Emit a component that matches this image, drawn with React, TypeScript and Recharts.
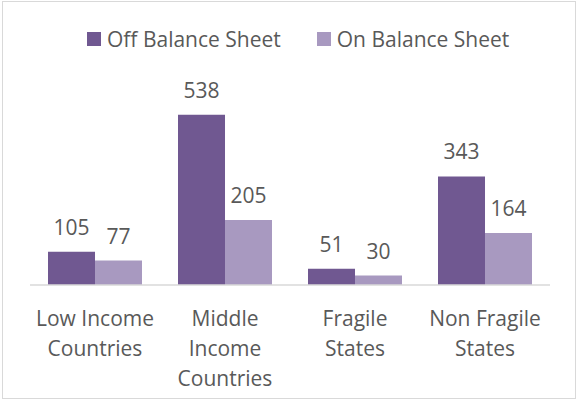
import React from "react";
import { BarChart, Bar, XAxis, YAxis, LabelList } from "recharts";

const categories = ["Low Income\nCountries", "Middle\nIncome\nCountries", "Fragile\nStates", "Non Fragile\nStates"];
const offBalance = [105, 538, 51, 343];
const onBalance = [77, 205, 30, 164];

const OFF_COLOR = "#705891";
const ON_COLOR = "#A899C0";
const TEXT = "#595959";
const FONT = "'Open Sans', sans-serif";

const data = categories.map((c, i) => ({ name: c, off: offBalance[i], on: onBalance[i] }));

const CategoryTick = (props: any) => {
  const { x, y, payload } = props;
  const lines = String(payload.value).split("\n");
  return (
    <text x={x} y={y} textAnchor="middle" fill={TEXT} fontSize={21} fontFamily={FONT}>
      {lines.map((l, i) => (
        <tspan key={i} x={x} dy={i === 0 ? 33 : 30}>{l}</tspan>
      ))}
    </text>
  );
};

const LegendBox = () => (
  <div style={{ position: "absolute", left: 87, top: 24, height: 30, display: "flex", alignItems: "center", gap: 36, fontFamily: FONT, fontSize: 21, color: TEXT, whiteSpace: "nowrap" }}>
    {[["Off Balance Sheet", OFF_COLOR], ["On Balance Sheet", ON_COLOR]].map(([label, color]) => (
      <span key={label} style={{ display: "flex", alignItems: "center" }}>
        <span style={{ width: 14, height: 14, background: color, marginRight: 6, display: "inline-block" }} />
        {label}
      </span>
    ))}
  </div>
);

export default function App() {
  return (
    <div style={{ position: "fixed", left: 0, top: 0, width: 577, height: 402, background: "#fff" }}>
      <div style={{ position: "absolute", left: 2, top: 1, width: 572, height: 396, border: "1px solid #d9d9d9" }} />
      <LegendBox />
      <div style={{ position: "absolute", left: 0, top: 0 }}>
        <BarChart
          width={577}
          height={402}
          data={data}
          margin={{ top: 95, right: 27, left: 30, bottom: 0 }}
          barCategoryGap="13.85%"
          barGap={0}
        >
          <XAxis
            dataKey="name"
            axisLine={{ stroke: "#d9d9d9", strokeWidth: 1.5 }}
            tickLine={false}
            tick={<CategoryTick />}
            interval={0}
            height={117}
          />
          <YAxis hide domain={[0, 600]} />
          <Bar dataKey="off" name="Off Balance Sheet" fill={OFF_COLOR} isAnimationActive={false}>
            <LabelList dataKey="off" position="top" offset={17} fill={TEXT} fontSize={21} fontFamily={FONT} />
          </Bar>
          <Bar dataKey="on" name="On Balance Sheet" fill={ON_COLOR} isAnimationActive={false}>
            <LabelList dataKey="on" position="top" offset={17} fill={TEXT} fontSize={21} fontFamily={FONT} />
          </Bar>
        </BarChart>
      </div>
    </div>
  );
}
